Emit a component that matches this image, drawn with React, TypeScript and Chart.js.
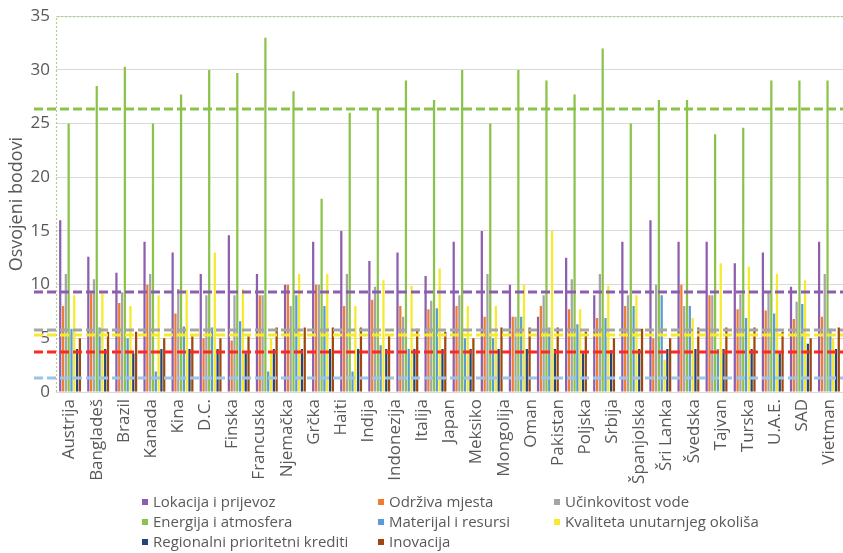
import React, { useEffect, useRef } from 'react';
import { Chart, registerables } from 'chart.js';

Chart.register(...registerables);

// Axis tick labels (29 names printed under the axis)
const countries = [
  'Austrija', 'Bangladeš', 'Brazil', 'Kanada', 'Kina', 'D.C.', 'Finska', 'Francuska', 'Njemačka',
  'Grčka', 'Haiti', 'Indija', 'Indonezija', 'Italija', 'Japan', 'Meksiko', 'Mongolija', 'Oman',
  'Pakistan', 'Poljska', 'Srbija', 'Španjolska', 'Šri Lanka', 'Švedska', 'Tajvan', 'Turska',
  'U.A.E.', 'SAD', 'Vietman',
];

const yTicks = [0, 5, 10, 15, 20, 25, 30, 35];

// Series values (28 bar groups as drawn in the reference)
const lokacija = [16, 12.6, 11.1, 14, 13, 11, 14.6, 11, 10, 14, 15, 12.2, 13, 10.8, 14, 15, 10, 7, 12.5, 9, 14, 16, 14, 14, 12, 13, 9.8, 14];
const odrziva = [8, 9.2, 8.3, 10, 7.3, 5, 4.8, 9, 10, 10, 8, 8.6, 8, 7.7, 8, 7, 7, 8, 7.7, 6.9, 8, 5, 10, 9, 7.7, 7.6, 6.8, 7];
const ucinkovitost = [11, 10.5, 9.3, 11, 9.6, 9, 9, 9, 8, 10, 11, 9.8, 7, 8.5, 9, 11, 7, 9, 10.5, 11, 9, 10, 8, 9, 9.1, 9.3, 8.4, 11];
const energija = [25, 28.5, 30.3, 25, 27.7, 30, 29.7, 33, 28, 18, 26, 26.4, 29, 27.2, 30, 25, 30, 29, 27.7, 32, 25, 27.2, 27.2, 24, 24.6, 29, 29, 29];
const materijal = [5.9, 6, 5, 1.9, 6.1, 6, 6.6, 1.9, 9, 8, 1.9, 4.35, 4, 7.8, 5, 5, 7, 6, 6.3, 6.9, 8, 9, 8, 4, 6.9, 7.3, 8.2, 5.9];
const kvaliteta = [9, 9.2, 8, 9, 9.5, 13, 9.6, 5, 11, 11, 8, 10.4, 9.9, 11.5, 8, 8, 10, 15, 7.7, 9.9, 9, 3, 6.9, 12, 11.7, 11, 10.4, 5];
const regionalni = [4, 4, 3.6, 4, 4, 4, 3.6, 4, 4, 4, 4, 4, 4, 4, 4, 4, 4, 4, 3.6, 3.9, 4, 4, 4, 4, 4, 3.6, 4.5, 4];
const inovacija = [5, 5.6, 5.6, 5, 5.2, 5, 5.2, 6, 6, 6, 6, 5.4, 5.9, 5.6, 5, 6, 6, 6, 5.6, 5, 5.9, 5, 6, 6, 6, 5.6, 5, 6];

const seriesNames = [
  'Lokacija i prijevoz', 'Održiva mjesta', 'Učinkovitost vode', 'Energija i atmosfera',
  'Materijal i resursi', 'Kvaliteta unutarnjeg okoliša', 'Regionalni prioritetni krediti', 'Inovacija',
];
const seriesValues = [lokacija, odrziva, ucinkovitost, energija, materijal, kvaliteta, regionalni, inovacija];
const seriesColors = ['#8E5EAE', '#ED7D31', '#A5A5A5', '#8BC34A', '#5B9BD5', '#F5EA2E', '#264478', '#9E480E'];

// Dashed reference (average) lines
const refValues = [26.36, 9.35, 5.74, 5.34, 3.75, 1.35];
const refColors = ['#8BC34A', '#8E5EAE', '#A5A5A5', '#F5EA2E', '#FF2A1F', '#9DC3E6'];

const groupSlots = lokacija.map((_, i) => String(i + 1));

const TEXT = '#595959';
const FONT = "'Open Sans', sans-serif";

const overlayPlugin = {
  id: 'overlay',
  beforeDatasetsDraw(chart: any) {
    const { ctx, chartArea: a, scales } = chart;
    const yTop = scales.y.getPixelForValue(yTicks[yTicks.length - 1]);
    ctx.save();
    ctx.strokeStyle = '#A9D08E';
    ctx.lineWidth = 1.2;
    ctx.setLineDash([2, 2]);
    ctx.beginPath();
    ctx.moveTo(a.left + 0.5, a.bottom);
    ctx.lineTo(a.left + 0.5, yTop + 0.5);
    ctx.lineTo(a.right, yTop + 0.5);
    ctx.stroke();
    ctx.restore();
  },
  afterDatasetsDraw(chart: any) {
    const { ctx, chartArea: a, scales } = chart;
    ctx.save();
    ctx.lineWidth = 3;
    ctx.setLineDash([9, 4]);
    refValues.forEach((v, i) => {
      const y = Math.round(scales.y.getPixelForValue(v));
      ctx.strokeStyle = refColors[i];
      ctx.beginPath();
      ctx.moveTo(a.left - 22, y);
      ctx.lineTo(a.right, y);
      ctx.stroke();
    });
    ctx.restore();
  },
  afterDraw(chart: any) {
    const { ctx } = chart;
    const cols = [145, 381, 557];
    const rows = [502, 522, 542];
    ctx.save();
    ctx.font = `15px ${FONT}`;
    ctx.textBaseline = 'middle';
    ctx.textAlign = 'left';
    chart.data.datasets.forEach((ds: any, i: number) => {
      const cx = cols[i % 3];
      const cy = rows[Math.floor(i / 3)];
      ctx.fillStyle = ds.backgroundColor;
      ctx.fillRect(cx - 3, cy - 3, 6, 6);
      ctx.fillStyle = TEXT;
      ctx.fillText(ds.label, cx + 8, cy + 1);
    });
    ctx.restore();
  },
};

export default function App() {
  const ref = useRef<HTMLCanvasElement>(null);
  useEffect(() => {
    const chart = new Chart(ref.current as HTMLCanvasElement, {
      type: 'bar',
      data: {
        labels: groupSlots,
        datasets: seriesNames.map((name, i) => ({
          label: name,
          data: seriesValues[i],
          backgroundColor: seriesColors[i],
          borderWidth: 0,
          xAxisID: 'x',
          yAxisID: 'y',
          categoryPercentage: 0.8,
          barPercentage: 0.8,
        })),
      },
      options: {
        animation: false,
        responsive: true,
        maintainAspectRatio: false,
        layout: { padding: { top: 14, right: 0, left: 0, bottom: 62 } },
        plugins: {
          legend: { display: false },
          tooltip: { enabled: false },
        },
        scales: {
          x: {
            type: 'category',
            display: false,
            offset: true,
            grid: { display: false },
            afterFit(scale: any) {
              scale.paddingLeft = 0;
              scale.paddingRight = 0;
            },
          },
          xl: {
            type: 'category',
            labels: countries,
            position: 'bottom',
            offset: true,
            grid: { display: false, drawTicks: false },
            border: { display: true, color: '#D9D9D9', width: 1 },
            ticks: {
              autoSkip: false,
              maxRotation: 90,
              minRotation: 90,
              padding: 7,
              color: TEXT,
              font: { family: FONT, size: 17 },
            },
            afterFit(scale: any) {
              scale.height = 99;
              scale.paddingLeft = 0;
              scale.paddingRight = 0;
            },
          },
          y: {
            min: 0,
            max: 35,
            afterBuildTicks(scale: any) {
              scale.ticks = yTicks.map((v) => ({ value: v }));
            },
            grid: { color: '#D9D9D9', drawTicks: false, lineWidth: 1 },
            border: { display: false },
            ticks: {
              padding: 6,
              color: TEXT,
              font: { family: FONT, size: 17 },
            },
            title: {
              display: true,
              text: 'Osvojeni bodovi',
              color: TEXT,
              font: { family: FONT, size: 18 },
              padding: { top: 6, bottom: 2 },
            },
            afterFit(scale: any) {
              scale.width = 56;
            },
          },
        },
      },
      plugins: [overlayPlugin],
    } as any);
    return () => chart.destroy();
  }, []);
  return (
    <div style={{ position: 'absolute', left: 0, top: 0, width: 843, height: 553, background: '#fff' }}>
      <canvas ref={ref} />
    </div>
  );
}
